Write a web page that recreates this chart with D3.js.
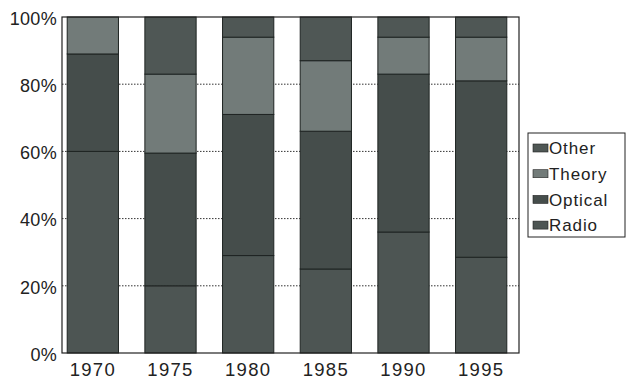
<!DOCTYPE html>
<html><head><meta charset="utf-8">
<script src="https://cdn.jsdelivr.net/npm/d3@7"></script>
<style>body{margin:0;background:#fff}svg text{font-family:"Liberation Sans",Arial,sans-serif;fill:#222}</style>
</head><body><svg id="c" width="626" height="379"></svg>
<script>
const years = ["1970","1975","1980","1985","1990","1995"];
const seriesNames = ["Radio","Optical","Theory","Other"];
const radio   = [60, 20, 29, 25, 36, 28.5];
const optical = [29, 39.5, 42, 41, 47, 52.5];
const theory  = [11, 23.5, 23, 21, 11, 13];
const other   = [0, 17, 6, 13, 6, 6];
const yTicks = [0, 20, 40, 60, 80, 100];
const colors = {Radio:"#4d5553", Optical:"#454d4b", Theory:"#727b79", Other:"#4f5755"};

const rows = years.map((y,i)=>({year:y, Radio:radio[i], Optical:optical[i], Theory:theory[i], Other:other[i]}));
const stack = d3.stack().keys(seriesNames)(rows);

const svg = d3.select("#c");
const L=62, R=519, T=17, B=353;
const x = d3.scaleBand().domain(years).range([54,520]).paddingInner(0.34).paddingOuter(0.17);
const y = d3.scaleLinear().domain([0,100]).range([B,T]);

// grid
svg.append("g").selectAll("line").data(yTicks.filter(t=>t>0&&t<100)).join("line")
  .attr("x1",L).attr("x2",R).attr("y1",d=>y(d)).attr("y2",d=>y(d))
  .attr("stroke","#333").attr("stroke-width",1).attr("stroke-dasharray","1.5,1.5");

// bars
svg.append("g").selectAll("g").data(stack).join("g")
  .attr("fill",d=>colors[d.key])
  .selectAll("rect").data(d=>d).join("rect")
  .attr("x",d=>x(d.data.year)).attr("width",x.bandwidth())
  .attr("y",d=>y(d[1])).attr("height",d=>y(d[0])-y(d[1]))
  .attr("stroke","#1e2422").attr("stroke-width",1);

// frame
svg.append("rect").attr("x",L).attr("y",T).attr("width",R-L).attr("height",B-T)
  .attr("fill","none").attr("stroke","#222").attr("stroke-width",1.2);

// y axis labels
const ya = svg.append("g").attr("transform",`translate(${L},0)`)
  .call(d3.axisLeft(y).tickValues(yTicks).tickFormat(d=>d+"%").tickSize(0).tickPadding(5));
ya.select(".domain").remove();
ya.selectAll("text").attr("font-size",18).attr("fill","#222").attr("dy","0.4em").attr("letter-spacing","0.3px");

// x axis labels
const xa = svg.append("g").attr("transform",`translate(0,${B})`)
  .call(d3.axisBottom(x).tickSize(0));
xa.select(".domain").remove();
xa.selectAll("text").attr("font-size",18.5).attr("fill","#222").attr("letter-spacing","1.3px")
  .attr("y",23).attr("dy",0);

// legend
const lg = svg.append("g");
lg.append("rect").attr("x",528).attr("y",133).attr("width",97).attr("height",104)
  .attr("fill","#fff").attr("stroke","#222").attr("stroke-width",1);
const legendOrder = seriesNames.slice().reverse();
const li = lg.selectAll("g.it").data(legendOrder).join("g").attr("class","it")
  .attr("transform",(d,i)=>`translate(533,${148+i*25.7})`);
li.append("rect").attr("x",0).attr("y",-4).attr("width",15).attr("height",8)
  .attr("fill",d=>colors[d]).attr("stroke","#222").attr("stroke-width",0.6);
li.append("text").attr("x",16).attr("y",0).attr("dy","0.36em").attr("font-size",17)
  .attr("letter-spacing","0.9px").text(d=>d);
</script></body></html>
